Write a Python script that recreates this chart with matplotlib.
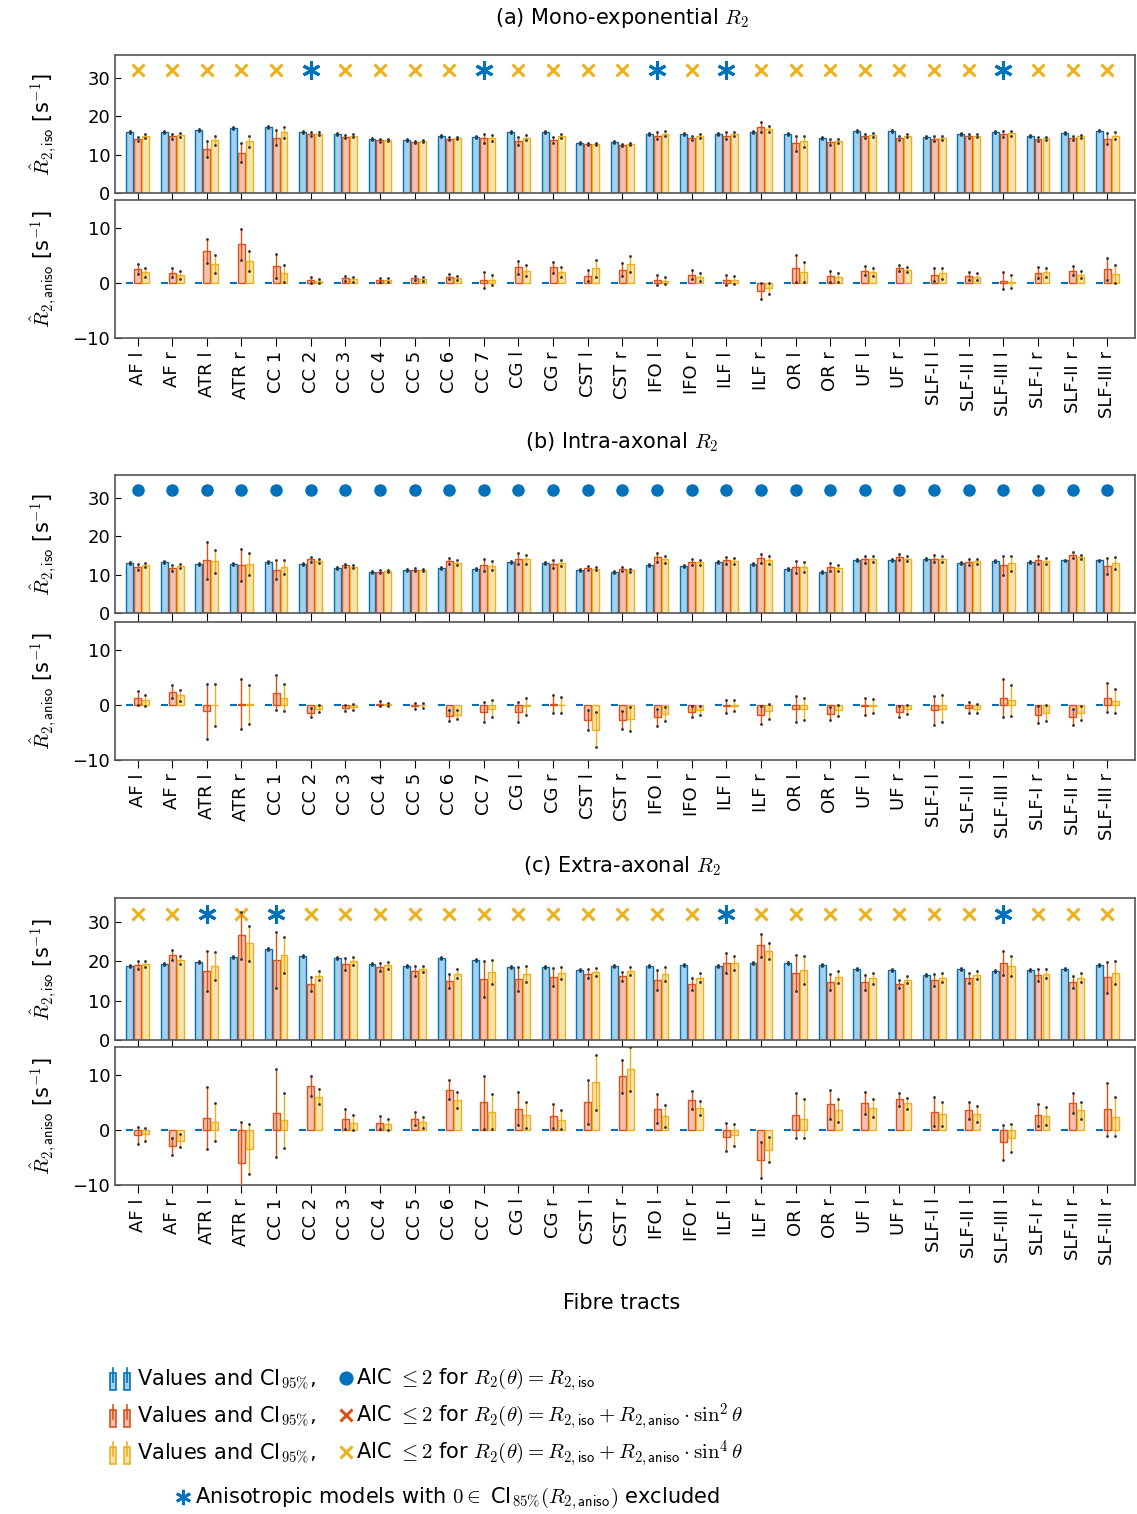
import matplotlib
matplotlib.use("Agg")
import matplotlib.pyplot as plt
import numpy as np

plt.rcParams['mathtext.fontset'] = 'cm'
plt.rcParams['font.family'] = ['DejaVu Sans']

tracts = ["AF l", "AF r", "ATR l", "ATR r", "CC 1", "CC 2", "CC 3", "CC 4", "CC 5", "CC 6", "CC 7",
          "CG l", "CG r", "CST l", "CST r", "IFO l", "IFO r", "ILF l", "ILF r", "OR l", "OR r",
          "UF l", "UF r", "SLF-I l", "SLF-II l", "SLF-III l", "SLF-I r", "SLF-II r", "SLF-III r"]

# ---- panel (a) mono-exponential
a_iso_blue = [15.8,16.0,16.5,17.0,17.2,15.8,15.3,14.0,13.9,14.9,14.7,15.8,16.0,13.0,13.2,15.5,15.4,15.5,15.8,15.3,14.3,16.2,16.1,14.7,15.5,15.8,14.8,15.7,16.3]
a_iso_red  = [14.1,14.8,11.5,10.5,14.4,15.5,14.7,13.7,13.3,14.2,14.3,13.6,13.9,12.8,12.6,15.0,14.4,15.0,17.2,13.0,13.4,14.8,14.4,14.2,14.8,15.5,14.0,14.4,14.2]
a_iso_yel  = [14.8,15.2,13.8,13.5,15.8,15.5,14.9,13.8,13.5,14.4,14.4,14.4,14.9,12.8,12.7,15.5,14.8,15.4,16.8,13.5,13.6,15.1,14.9,14.3,15.0,15.6,14.3,14.8,15.0]
a_iso_red_err = [0.6,0.6,2.0,2.5,2.0,0.5,0.4,0.3,0.3,0.4,1.2,1.0,0.8,0.3,0.3,0.8,0.5,0.8,1.2,2.0,0.8,0.5,0.5,0.6,0.5,0.8,0.5,0.5,1.5]
a_iso_yel_err = [0.5,0.5,1.2,1.5,1.5,0.4,0.4,0.3,0.3,0.3,0.8,0.7,0.6,0.3,0.3,0.6,0.5,0.6,0.8,1.5,0.6,0.5,0.4,0.5,0.4,0.6,0.4,0.4,1.0]
a_an_red = [2.5,1.8,5.7,7.0,3.0,0.5,0.8,0.5,0.9,1.1,0.5,2.8,2.8,1.3,2.4,0.5,1.5,0.5,-1.5,2.6,1.2,2.2,2.7,1.5,1.2,0.4,1.8,2.2,2.5]
a_an_yel = [1.9,1.4,3.4,4.0,1.7,0.3,0.6,0.5,0.7,0.9,0.5,2.2,1.9,2.6,3.4,0.4,1.0,0.5,-1.0,2.0,1.0,2.0,2.4,1.7,1.1,0.2,1.9,1.5,1.6]
a_an_red_err = [0.9,0.8,2.2,2.8,2.2,0.5,0.5,0.4,0.4,0.5,1.4,1.2,1.0,1.0,1.2,0.9,0.8,0.9,1.5,2.5,1.0,0.8,0.6,1.2,0.7,1.5,1.0,0.8,2.0]
a_an_yel_err = [0.8,0.7,1.6,1.8,1.5,0.4,0.4,0.4,0.4,0.4,0.9,1.0,0.9,1.5,1.4,0.7,0.7,0.7,1.0,1.8,0.8,0.7,0.5,1.0,0.6,1.2,0.8,0.7,1.6]
a_marks = ["x","x","x","x","x","*","x","x","x","x","*","x","x","x","x","*","x","*","x","x","x","x","x","x","x","*","x","x","x"]

# ---- panel (b) intra-axonal
b_iso_blue = [13.0,13.3,12.8,12.8,13.2,12.8,11.8,10.8,11.2,11.8,11.5,13.3,13.0,11.2,10.8,12.5,12.3,13.2,12.8,11.5,10.8,13.9,13.8,14.0,13.0,13.6,13.3,13.7,13.7]
b_iso_red  = [12.0,11.8,13.8,12.5,11.3,14.0,12.4,10.8,11.3,13.5,12.5,14.2,12.8,11.8,11.4,14.5,13.3,13.7,14.3,12.0,12.0,14.0,14.5,14.2,13.4,12.5,13.8,15.2,12.3]
b_iso_yel  = [12.5,12.3,13.5,12.8,12.0,13.6,12.1,11.0,11.3,13.1,12.3,14.0,13.0,11.6,11.2,14.0,13.2,13.6,13.9,12.0,11.7,14.0,14.2,14.0,13.5,13.0,13.5,14.6,13.0]
b_iso_red_err = [0.8,0.8,4.8,4.2,2.5,0.6,0.5,0.3,0.4,0.8,1.5,1.5,1.0,0.5,0.5,1.2,0.8,1.0,1.2,1.5,1.0,1.0,0.8,1.0,0.8,2.5,1.0,0.8,2.0]
b_iso_yel_err = [0.6,0.6,3.0,2.8,1.8,0.5,0.4,0.3,0.3,0.6,1.2,1.2,0.8,0.4,0.4,1.0,0.6,0.8,1.0,1.2,0.8,0.8,0.6,0.8,0.6,2.0,0.8,0.6,1.6]
b_an_red = [1.2,2.4,-1.2,0.2,2.2,-1.4,-0.6,0.2,-0.2,-2.0,-1.3,-1.3,0.2,-2.8,-2.8,-2.3,-1.3,-0.3,-1.8,-0.8,-1.6,-0.3,-1.3,-1.0,-0.5,1.2,-1.8,-2.2,1.3]
b_an_yel = [0.8,1.7,0.0,0.1,1.3,-0.7,-0.4,0.1,-0.1,-1.8,-0.7,-0.3,0.0,-4.5,-2.6,-1.7,-1.0,-0.2,-1.2,-0.7,-1.0,-0.2,-0.8,-0.7,-0.7,0.8,-1.5,-1.5,0.7]
b_an_red_err = [1.3,1.2,5.0,4.5,3.2,0.8,0.6,0.4,0.5,1.0,1.8,1.8,1.6,1.8,1.6,1.6,1.0,1.2,1.6,2.4,1.2,1.5,1.0,2.6,1.0,3.5,1.5,1.4,2.6]
b_an_yel_err = [1.0,1.0,3.8,3.5,2.5,0.6,0.5,0.3,0.4,0.8,1.5,1.5,1.4,3.2,2.2,1.3,0.8,1.0,1.3,2.0,1.0,1.2,0.8,2.4,0.8,2.8,1.4,1.2,2.2]
b_marks = ["o"] * 29

# ---- panel (c) extra-axonal
c_iso_blue = [18.8,19.3,19.8,21.0,23.0,21.3,20.7,19.3,18.8,20.9,20.3,18.6,18.5,17.8,18.8,18.7,18.9,18.7,19.4,19.4,18.9,18.1,17.7,16.4,18.0,17.6,17.8,18.0,18.9]
c_iso_red  = [19.0,21.5,17.5,26.5,20.3,14.2,19.3,18.6,17.5,15.0,15.5,15.5,16.0,16.8,16.1,15.3,14.3,19.5,24.0,17.0,14.8,14.6,14.3,15.3,15.7,19.5,16.5,14.6,15.9]
c_iso_yel  = [19.3,20.3,18.8,24.5,21.5,16.3,20.0,18.9,18.0,16.8,17.2,16.8,17.0,17.2,17.6,16.8,15.8,19.6,22.5,17.7,16.0,15.6,15.3,15.8,16.4,18.8,16.8,15.8,17.1]
c_iso_red_err = [1.0,1.2,5.0,6.0,7.0,1.8,1.5,1.0,1.2,1.8,4.5,3.0,2.2,1.2,1.2,2.5,1.5,2.5,3.0,4.5,2.0,2.0,1.0,1.5,1.2,3.0,1.5,1.5,4.0]
c_iso_yel_err = [0.8,1.0,3.5,4.5,4.5,1.2,1.0,0.8,0.8,1.2,3.0,2.0,1.5,1.0,1.0,1.8,1.2,1.8,2.0,3.5,1.5,1.5,0.8,1.2,1.0,2.5,1.2,1.2,3.0]
c_an_red = [-1.0,-3.0,2.2,-6.0,3.0,8.0,2.0,1.3,2.0,7.3,5.0,3.8,2.5,5.1,9.7,3.8,5.4,-1.3,-5.5,2.6,4.6,4.8,5.5,3.3,3.5,-2.3,2.6,4.9,3.7]
c_an_yel = [-0.8,-2.0,1.4,-3.5,1.7,6.0,1.3,1.0,1.4,5.4,3.3,2.7,1.8,8.6,11.0,2.5,4.0,-1.0,-3.6,2.0,3.5,4.0,4.8,2.8,2.9,-1.5,2.5,3.5,2.4]
c_an_red_err = [1.5,1.5,5.6,7.5,8.0,1.8,1.8,1.2,1.2,1.8,4.8,3.0,2.2,4.0,3.0,2.6,1.6,2.6,3.2,4.0,2.6,2.0,1.2,2.6,1.6,3.2,2.0,1.8,4.8]
c_an_yel_err = [1.2,1.2,3.4,4.5,5.0,1.4,1.4,1.0,1.0,1.4,3.2,2.4,1.7,5.0,4.0,2.0,1.3,2.0,2.3,3.5,2.0,1.6,1.0,2.2,1.4,2.6,1.6,1.5,3.6]
c_marks = ["x","x","*","x","*","x","x","x","x","x","x","x","x","x","x","x","x","*","x","x","x","x","x","x","x","*","x","x","x"]

BLUE = "#0072BD"; RED = "#D95319"; YEL = "#EDB120"
FB = "#A6D0EA"; FR = "#F3C2AE"; FY = "#F7E3AF"
x = np.arange(len(tracts))
OFF = 0.23; W = 0.2

fig = plt.figure(figsize=(11.37, 15.14), dpi=100)
H = 1514.0; Wd = 1137.0
def ax_at(top, bot, left=115, right=1135):
    return fig.add_axes([left / Wd, 1 - bot / H, (right - left) / Wd, (bot - top) / H])

def bars(ax, vals, errs, off, fc, ec):
    ax.bar(x + off, vals, W, color=fc, edgecolor=ec, linewidth=1.0, zorder=2)
    if errs is not None:
        ax.errorbar(x + off, vals, yerr=errs, fmt='none', ecolor=ec, elinewidth=1.0, capsize=0, zorder=3)
        ax.plot(x + off, np.array(vals) + np.array(errs), ls='none', marker='.', ms=2, color='#333333', zorder=4)
        ax.plot(x + off, np.array(vals) - np.array(errs), ls='none', marker='.', ms=2, color='#333333', zorder=4)

def style(ax, ylim, yticks, ylabel, labels):
    ax.set_xlim(-0.65, 28.8)
    ax.set_ylim(*ylim)
    ax.set_yticks(yticks)
    ax.set_xticks(x)
    ax.tick_params(direction='in', length=4, labelsize=13, width=0.8)
    ax.tick_params(axis='x', direction='out', length=6)
    if labels:
        ax.set_xticklabels(tracts, rotation=90, fontsize=13)
    else:
        ax.set_xticklabels([])
    ax.set_ylabel(ylabel, fontsize=15)
    ax.yaxis.set_label_coords(-0.055, 0.5)
    for s in ax.spines.values():
        s.set_color('#555555'); s.set_linewidth(1.2)

iso_lab = r"$\hat{R}_{2,\mathsf{iso}}$ [s$^{-1}$]"
an_lab = r"$\hat{R}_{2,\mathsf{aniso}}$ [s$^{-1}$]"

def marks(ax, m):
    for i, k in enumerate(m):
        if k == "x":
            ax.plot(i, 32, marker='x', color=YEL, ms=9, mew=2.2, ls='none')
        elif k == "*":
            ax.plot(i, 32, marker=(6, 2, 0), color=BLUE, ms=13, mew=2.2, ls='none')
        else:
            ax.plot(i, 32, marker='o', color=BLUE, ms=8, ls='none')

panels = [
    ("(a) Mono-exponential $R_2$", 18, 55, 193, 200, 338,
     a_iso_blue, a_iso_red, a_iso_yel, a_iso_red_err, a_iso_yel_err, a_an_red, a_an_yel, a_an_red_err, a_an_yel_err, a_marks),
    ("(b) Intra-axonal $R_2$", 442, 475, 613, 622, 760,
     b_iso_blue, b_iso_red, b_iso_yel, b_iso_red_err, b_iso_yel_err, b_an_red, b_an_yel, b_an_red_err, b_an_yel_err, b_marks),
    ("(c) Extra-axonal $R_2$", 866, 898, 1040, 1047, 1185,
     c_iso_blue, c_iso_red, c_iso_yel, c_iso_red_err, c_iso_yel_err, c_an_red, c_an_yel, c_an_red_err, c_an_yel_err, c_marks),
]
for (title, ty, t1, b1, t2, b2, ib, ir, iy, ire, iye, ar, ay, are, aye, mk) in panels:
    fig.text(622 / Wd, 1 - ty / H, title, ha='center', va='center', fontsize=15)
    ax1 = ax_at(t1, b1)
    bars(ax1, ib, [0.25] * 29, -OFF, FB, BLUE)
    bars(ax1, ir, ire, 0, FR, RED)
    bars(ax1, iy, iye, OFF, FY, YEL)
    marks(ax1, mk)
    style(ax1, (0, 36), [0, 10, 20, 30], iso_lab, False)
    ax2 = ax_at(t2, b2)
    ax2.hlines(np.zeros(len(x)), x - OFF - W / 2, x - OFF + W / 2, color=BLUE, lw=1.5, zorder=3)
    bars(ax2, ar, are, 0, FR, RED)
    bars(ax2, ay, aye, OFF, FY, YEL)
    style(ax2, (-10, 15), [-10, 0, 10], an_lab, True)

fig.text(622 / Wd, 1 - 1303 / H, "Fibre tracts", ha='center', va='center', fontsize=15)

# legend
lg = fig.add_axes([0, 0, 1, 1]); lg.set_xlim(0, Wd); lg.set_ylim(H, 0); lg.axis('off')
rows = [(1380, FB, BLUE, 'o', BLUE, r"AIC $\leq 2$ for $R_2(\theta) = R_{2,\mathsf{iso}}$"),
        (1417, FR, RED, 'x', RED, r"AIC $\leq 2$ for $R_2(\theta) = R_{2,\mathsf{iso}} + R_{2,\mathsf{aniso}} \cdot \sin^2\theta$"),
        (1454, FY, YEL, 'x', YEL, r"AIC $\leq 2$ for $R_2(\theta) = R_{2,\mathsf{iso}} + R_{2,\mathsf{aniso}} \cdot \sin^4\theta$")]
for y, fc, ec, m, mc, txt in rows:
    for xc in (113, 127):
        lg.add_patch(plt.Rectangle((xc - 3, y - 7), 6, 17, fc=fc, ec=ec, lw=1.2))
        lg.plot([xc, xc], [y - 12, y + 2], color=ec, lw=1.2)
    lg.text(137, y, r"Values and CI$_{95\%}$,", va='center', fontsize=15)
    lg.plot(346, y - 2, marker=m, color=mc, ms=8, mew=2.2)
    lg.text(356, y, txt, va='center', fontsize=15)
lg.plot(183, 1497, marker=(6, 2, 0), color=BLUE, ms=11, mew=2)
lg.text(195, 1499, r"Anisotropic models with $0 \in$ CI$_{85\%}(R_{2,\mathsf{aniso}})$ excluded", va='center', fontsize=15)

fig.savefig("out.png", dpi=100)
